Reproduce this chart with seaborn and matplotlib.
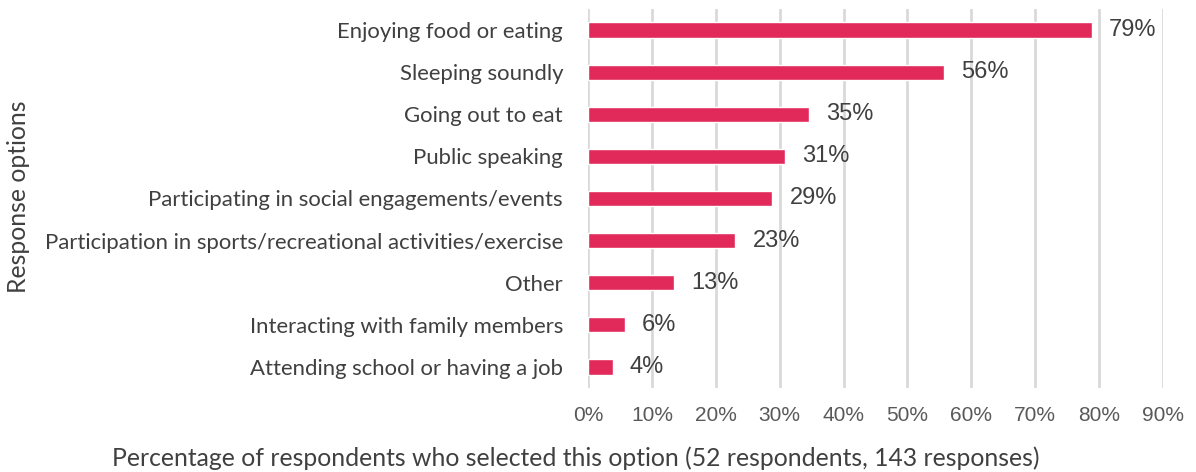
import matplotlib as mpl
import numpy as np
import pandas as pd
import seaborn as sns
from matplotlib import pyplot

# %% -- data ---------------------------------------------------------------- #
options = ['Enjoying food or eating',
           'Sleeping soundly',
           'Going out to eat',
           'Public speaking',
           'Participating in social engagements/events',
           'Participation in sports/recreational activities/exercise',
           'Other',
           'Interacting with family members',
           'Attending school or having a job']
counts = [41, 29, 18, 16, 15, 12, 7, 3, 2]
n_respondents = 52
xticks = [0, 0.1, 0.2, 0.3, 0.4, 0.5, 0.6, 0.7, 0.8, 0.9]

df = pd.DataFrame({'option': options, 'share': np.array(counts) / n_respondents})

# %% -- style --------------------------------------------------------------- #
sns.set_style('white')
mpl.rcParams['font.family'] = ['Liberation Sans', 'DejaVu Sans']
label_font = ['Lato', 'DejaVu Sans']
bar_colour = '#E22A5A'
text_colour = '#404040'

f = pyplot.figure(figsize=(11.96, 4.72), dpi=100)
ax = f.add_axes([588 / 1196, 1 - 388 / 472, (1163 - 588) / 1196, (388 - 9) / 472])

sns.barplot(data=df, x='share', y='option', color=bar_colour, width=0.36,
            saturation=1, ax=ax, zorder=3)

# value labels
for p, v in zip(ax.patches, df['share']):
    ax.text(p.get_width() + 0.027, p.get_y() + p.get_height() / 2,
            f'{v:.0%}', va='center', ha='left', fontsize=17,
            fontfamily=['Liberation Sans'], color=text_colour)

# aesthetics
ax.set_xlim(0, 0.9)
ax.set_ylim(len(options) - 0.5, -0.5)
ax.set_xticks(xticks)
ax.set_xticklabels([f'{t:.0%}' for t in xticks], fontsize=15,
                   fontfamily=['Liberation Sans'], color='#595959')
ax.set_yticklabels(options, fontfamily=label_font, fontsize=15.9, color=text_colour)
ax.tick_params(axis='x', length=0, pad=13)
ax.tick_params(axis='y', length=0, pad=18)
ax.xaxis.grid(True, color='#D9D9D9', linewidth=2, zorder=0)
for s in ax.spines.values():
    s.set_visible(False)
ax.set_xlabel('')
ax.set_ylabel('')

f.text(19 / 1196, 1 - 197 / 472, 'Response options', rotation=90, va='center',
       ha='center', fontfamily=label_font, fontsize=17.8, color=text_colour)
f.text(576 / 1196, 1 - 458 / 472,
       'Percentage of respondents who selected this option (52 respondents, 143 responses)',
       va='center', ha='center', fontfamily=label_font, fontsize=17.8, color=text_colour)

pyplot.savefig('out.png', dpi=100)
